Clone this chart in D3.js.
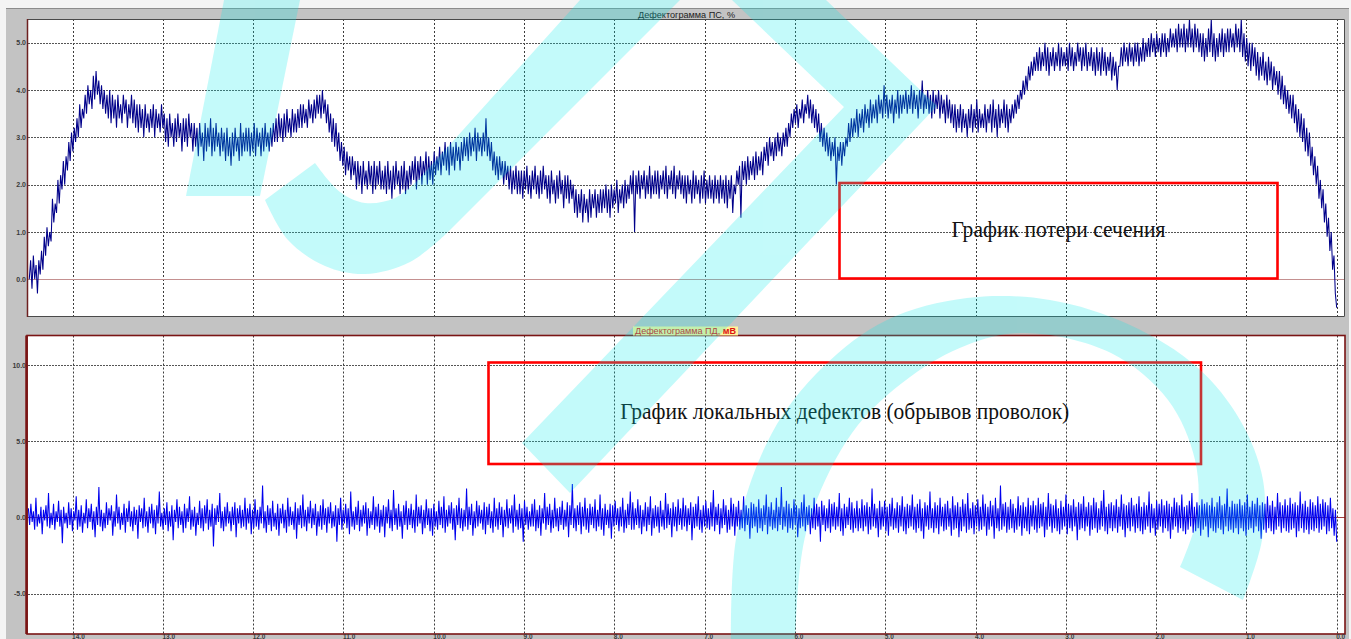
<!DOCTYPE html>
<html>
<head>
<meta charset="utf-8">
<script src="https://cdn.jsdelivr.net/npm/d3@7/dist/d3.min.js"></script>
<style>
  html, body { margin: 0; padding: 0; background: #ffffff; overflow: hidden; }
  svg { display: block; }
  .tick text { font-family: "Liberation Sans", Arial, sans-serif; font-size: 7px; font-weight: bold; fill: #3a3a3a; }
</style>
</head>
<body>
<svg id="chart" width="1351" height="639"></svg>
<script>
// ---- data -----------------------------------------------------------------
// distance along the rope, m (axis runs from right to left)
const distanceTicks = [14, 13, 12, 11, 10, 9, 8, 7, 6, 5, 4, 3, 2, 1, 0];
// loss of metallic cross-section (ПС), %
const psTicks = [0, 1, 2, 3, 4, 5];
// local faults signal (ПД), mV
const pdTicks = [-5, 0, 5, 10];

// first and last sample positions of each record, m
const psSpan = [14.48, 0.0];
const pdSpan = [14.49, 0.0];

// ПС record, %
const psValues = [
  0.0, 0.4, -0.2, 0.5, 0.0, 0.3, -0.3, 0.4, 0.1, 0.6, 0.2, 0.9, 0.5, 1.1, 0.7, 1.0, 0.8, 1.7, 1.2, 1.6,
  1.4, 2.1, 1.6, 2.2, 1.9, 2.5, 2.0, 2.6, 2.3, 2.9, 2.5, 3.1, 2.7, 3.2, 2.9, 3.4, 3.0, 3.7, 3.2, 3.6,
  3.4, 3.9, 3.5, 4.1, 3.7, 4.0, 3.6, 4.3, 3.8, 4.4, 3.9, 4.2, 3.7, 4.1, 3.6, 4.0, 3.5, 3.9, 3.4, 4.0,
  3.3, 3.9, 3.4, 3.8, 3.2, 3.9, 3.4, 3.7, 3.3, 3.9, 3.5, 3.8, 3.2, 3.7, 3.4, 3.9, 3.3, 3.8, 3.2, 3.7,
  3.1, 3.7, 3.2, 3.6, 3.0, 3.7, 3.2, 3.5, 3.1, 3.6, 3.2, 3.7, 3.0, 3.6, 3.2, 3.5, 3.1, 3.7, 3.2, 3.5,
  2.9, 3.4, 2.8, 3.5, 3.0, 3.3, 2.8, 3.4, 2.9, 3.5, 3.0, 3.3, 2.7, 3.4, 2.9, 3.4, 2.8, 3.5, 3.0, 3.3,
  2.7, 3.3, 2.8, 3.2, 2.6, 3.3, 2.8, 3.1, 2.5, 3.3, 2.7, 3.2, 2.8, 3.4, 2.6, 3.2, 2.7, 3.3, 2.8, 3.1,
  2.6, 3.2, 2.7, 3.1, 2.5, 3.2, 2.6, 3.0, 2.4, 3.1, 2.6, 3.2, 2.7, 3.0, 2.5, 3.3, 2.6, 3.1, 2.7, 3.2,
  2.7, 3.2, 2.6, 3.1, 2.7, 3.3, 2.6, 3.2, 2.8, 3.1, 2.6, 3.2, 2.7, 3.3, 2.8, 3.1, 2.7, 3.2, 2.8, 3.3,
  2.9, 3.4, 2.9, 3.5, 3.0, 3.4, 2.9, 3.5, 3.0, 3.6, 3.1, 3.4, 3.0, 3.6, 3.1, 3.5, 3.1, 3.6, 3.2, 3.7,
  3.2, 3.7, 3.3, 3.6, 3.2, 3.8, 3.4, 3.7, 3.3, 3.8, 3.4, 3.9, 3.5, 3.9, 3.4, 4.0, 3.5, 3.8, 3.3, 3.7,
  3.1, 3.5, 2.9, 3.4, 2.8, 3.3, 2.7, 3.1, 2.5, 2.9, 2.4, 2.8, 2.2, 2.7, 2.3, 2.6, 2.1, 2.6, 2.2, 2.5,
  1.9, 2.5, 2.0, 2.4, 1.8, 2.5, 2.0, 2.3, 1.9, 2.5, 2.0, 2.4, 1.8, 2.5, 1.9, 2.4, 2.0, 2.5, 1.9, 2.3,
  1.9, 2.4, 1.8, 2.5, 1.9, 2.3, 1.7, 2.4, 1.9, 2.5, 2.0, 2.3, 1.8, 2.4, 1.9, 2.5, 1.8, 2.3, 1.9, 2.4,
  2.0, 2.5, 2.1, 2.6, 1.9, 2.5, 2.1, 2.6, 2.0, 2.5, 2.2, 2.7, 2.0, 2.6, 2.1, 2.5, 2.0, 2.7, 2.2, 2.6,
  2.3, 2.8, 2.2, 2.7, 2.4, 2.9, 2.3, 2.8, 2.2, 2.9, 2.4, 2.8, 2.3, 2.9, 2.5, 2.8, 2.3, 2.9, 2.5, 3.0,
  2.6, 3.0, 2.5, 3.1, 2.6, 3.0, 2.7, 3.2, 2.5, 3.1, 2.7, 3.0, 2.6, 3.1, 2.7, 3.4, 2.6, 3.0, 2.5, 2.9,
  2.3, 2.7, 2.2, 2.6, 2.1, 2.6, 2.2, 2.5, 2.0, 2.5, 2.1, 2.4, 1.9, 2.4, 1.8, 2.3, 1.9, 2.4, 1.8, 2.3,
  1.8, 2.3, 1.7, 2.3, 1.9, 2.4, 1.8, 2.2, 1.7, 2.3, 1.9, 2.4, 1.8, 2.2, 1.7, 2.3, 1.8, 2.4, 1.9, 2.2,
  1.7, 2.2, 1.6, 2.3, 1.8, 2.1, 1.6, 2.2, 1.7, 2.3, 1.8, 2.1, 1.5, 2.2, 1.7, 2.2, 1.6, 2.1, 1.7, 2.0,
  1.4, 1.9, 1.3, 1.8, 1.4, 1.9, 1.2, 1.8, 1.4, 1.7, 1.2, 1.9, 1.3, 1.8, 1.5, 1.9, 1.3, 1.8, 1.4, 1.9,
  1.4, 1.9, 1.5, 2.0, 1.4, 1.9, 1.3, 2.0, 1.5, 1.9, 1.6, 2.1, 1.4, 1.9, 1.6, 2.0, 1.5, 2.1, 1.6, 2.0,
  1.7, 2.2, 1.8, 2.3, 1.0, 2.2, 1.8, 2.3, 1.7, 2.2, 1.9, 2.3, 1.7, 2.2, 1.8, 2.4, 1.7, 2.2, 1.8, 2.3,
  1.8, 2.3, 1.7, 2.2, 1.9, 2.3, 1.8, 2.4, 1.7, 2.2, 1.9, 2.3, 1.8, 2.4, 1.7, 2.2, 1.9, 2.3, 1.8, 2.2,
  1.7, 2.2, 1.6, 2.2, 1.8, 2.1, 1.6, 2.3, 1.7, 2.2, 1.8, 2.1, 1.6, 2.2, 1.7, 2.3, 1.6, 2.1, 1.7, 2.2,
  1.7, 2.1, 1.6, 2.2, 1.7, 2.1, 1.6, 2.2, 1.7, 2.1, 1.6, 2.2, 1.5, 2.1, 1.7, 2.2, 1.4, 2.0, 1.8, 2.3,
  2.0, 2.4, 1.3, 2.5, 2.1, 2.5, 2.0, 2.6, 2.1, 2.5, 2.2, 2.6, 2.1, 2.7, 2.2, 2.6, 2.3, 2.7, 2.2, 2.8,
  2.5, 2.9, 2.4, 3.0, 2.6, 2.9, 2.5, 3.0, 2.6, 3.1, 2.7, 3.0, 2.6, 3.1, 2.8, 3.2, 2.8, 3.3, 3.0, 3.5,
  3.2, 3.6, 3.3, 3.7, 3.2, 3.6, 3.4, 3.8, 3.3, 3.7, 3.5, 3.9, 3.4, 3.8, 3.3, 3.7, 3.2, 3.6, 3.1, 3.5,
  2.9, 3.3, 2.8, 3.2, 2.7, 3.1, 2.6, 3.0, 2.5, 2.9, 2.6, 3.0, 2.0, 2.8, 2.5, 2.9, 2.4, 2.9, 2.6, 3.0,
  2.8, 3.3, 2.9, 3.4, 3.0, 3.4, 3.1, 3.6, 3.0, 3.5, 3.2, 3.6, 3.1, 3.7, 3.3, 3.6, 3.2, 3.8, 3.3, 3.7,
  3.4, 3.8, 3.3, 3.9, 3.5, 3.8, 3.4, 4.1, 3.5, 3.9, 3.4, 3.8, 3.5, 3.9, 3.3, 3.8, 3.5, 4.0, 3.4, 3.9,
  3.5, 3.9, 3.6, 4.0, 3.5, 3.9, 3.6, 4.1, 3.5, 4.0, 3.6, 3.9, 3.4, 4.0, 3.6, 4.2, 3.5, 3.9, 3.6, 4.0,
  3.5, 3.9, 3.4, 4.0, 3.5, 3.9, 3.6, 4.0, 3.4, 3.9, 3.5, 3.8, 3.3, 3.9, 3.4, 3.8, 3.3, 3.7, 3.2, 3.7,
  3.1, 3.6, 3.2, 3.7, 3.1, 3.6, 3.2, 3.5, 3.0, 3.6, 3.2, 3.7, 3.1, 3.6, 3.2, 3.8, 3.1, 3.6, 3.2, 3.5,
  3.2, 3.7, 3.1, 3.6, 3.3, 3.7, 3.1, 3.8, 3.2, 3.6, 3.0, 3.7, 3.2, 3.6, 3.3, 3.8, 3.2, 3.7, 3.1, 3.6,
  3.3, 3.7, 3.4, 3.8, 3.5, 3.9, 3.6, 4.0, 3.8, 4.2, 3.9, 4.3, 4.0, 4.5, 4.2, 4.6, 4.3, 4.7, 4.4, 4.8,
  4.4, 4.9, 4.4, 4.8, 4.5, 5.0, 4.4, 4.9, 4.3, 4.8, 4.5, 4.9, 4.4, 4.8, 4.5, 5.0, 4.4, 4.9, 4.5, 4.8,
  4.5, 4.9, 4.4, 5.0, 4.5, 4.9, 4.4, 4.8, 4.5, 5.0, 4.6, 4.9, 4.4, 4.9, 4.5, 5.0, 4.4, 4.8, 4.5, 4.9,
  4.4, 4.8, 4.3, 4.9, 4.4, 4.8, 4.3, 4.9, 4.4, 4.8, 4.3, 4.7, 4.4, 4.8, 4.2, 4.7, 4.3, 4.6, 4.0, 4.5,
  4.5, 4.9, 4.5, 5.0, 4.6, 4.9, 4.5, 5.0, 4.6, 4.9, 4.5, 5.0, 4.6, 5.0, 4.5, 4.9, 4.6, 5.1, 4.6, 5.0,
  4.7, 5.1, 4.7, 5.2, 4.8, 5.1, 4.7, 5.2, 4.8, 5.1, 4.7, 5.2, 4.8, 5.2, 4.7, 5.1, 4.8, 5.3, 4.9, 5.2,
  4.9, 5.3, 4.8, 5.4, 4.9, 5.3, 4.9, 5.4, 4.8, 5.3, 4.9, 5.5, 4.9, 5.3, 4.8, 5.4, 4.9, 5.3, 4.8, 5.2,
  4.7, 5.2, 4.6, 5.1, 4.7, 5.3, 4.8, 5.5, 4.7, 5.2, 4.6, 5.1, 4.7, 5.2, 4.8, 5.3, 4.7, 5.2, 4.8, 5.3,
  4.8, 5.3, 4.9, 5.2, 4.8, 5.4, 4.9, 5.3, 4.8, 5.5, 4.7, 5.2, 4.6, 5.1, 4.5, 5.0, 4.4, 5.0, 4.5, 4.9,
  4.3, 4.8, 4.2, 4.7, 4.3, 4.8, 4.2, 4.6, 4.1, 4.7, 4.2, 4.6, 4.0, 4.5, 4.1, 4.4, 3.9, 4.4, 3.8, 4.3,
  3.7, 4.1, 3.6, 4.0, 3.5, 3.9, 3.4, 3.9, 3.3, 3.7, 3.1, 3.6, 3.0, 3.5, 2.9, 3.4, 2.7, 3.2, 2.6, 3.1,
  2.4, 2.8, 2.2, 2.6, 2.0, 2.4, 1.7, 2.1, 1.5, 1.9, 1.2, 1.6, 0.9, 1.3, 0.6, 1.0, 0.2, 0.5, -0.3, -0.6
];

// ПД record, mV
const pdValues = [
  0.6, -0.5, 0.9, -0.3, 0.4, -0.8, 1.3, -0.6, 0.2, -0.4, 0.7, -1.1, 0.5, -0.2, 0.8, -0.6, 1.6, -0.7, 0.3, -0.5,
  0.9, -0.8, 0.4, -0.3, 1.1, -0.6, 0.5, -1.7, 0.7, -0.4, 0.3, -0.7, 1.0, -0.5, 0.6, -0.9, 0.4, -0.2, 1.4, -0.8,
  0.5, -0.6, 0.8, -1.0, 0.3, -0.4, 1.2, -0.7, 0.6, -0.3, 0.9, -0.8, 0.4, -1.3, 0.7, -0.5, 2.0, -0.6, 0.5, -0.9,
  0.3, -0.7, 1.0, -0.5, 0.6, -0.2, 0.8, -1.2, 0.4, -0.6, 1.5, -0.4, 0.7, -0.8, 0.3, -0.5, 0.9, -1.0, 0.6, -0.3,
  1.1, -0.6, 0.4, -0.9, 0.7, -0.5, 0.5, -1.4, 0.8, -0.3, 0.6, -0.7, 1.3, -0.6, 0.4, -1.0, 0.7, -0.4, 0.9, -0.7,
  0.5, -1.1, 0.8, -0.4, 1.7, -0.6, 0.3, -0.8, 0.6, -0.5, 1.0, -0.9, 0.4, -0.6, 0.8, -1.5, 0.5, -0.3, 1.2, -0.7,
  0.7, -0.5, 0.4, -1.0, 0.9, -0.7, 0.6, -0.3, 1.4, -0.8, 0.5, -0.6, 0.7, -1.2, 0.3, -0.5, 1.1, -0.7, 0.6, -0.9,
  0.8, -0.4, 1.2, -0.8, 0.5, -0.6, 0.9, -1.9, 0.6, -0.5, 0.8, -0.3, 1.6, -0.7, 0.4, -0.9, 0.7, -0.6, 1.0, -0.4,
  0.4, -0.9, 0.7, -0.5, 1.0, -1.3, 0.6, -0.4, 0.8, -0.7, 0.5, -0.6, 1.3, -0.8, 0.6, -0.4, 0.9, -1.1, 0.5, -0.7,
  1.2, -0.6, 0.5, -0.8, 0.7, -0.4, 2.1, -0.7, 0.4, -1.0, 0.8, -0.5, 0.6, -0.9, 1.1, -0.6, 0.3, -0.8, 0.9, -1.2,
  0.6, -0.4, 0.9, -0.7, 0.5, -1.0, 1.3, -0.6, 0.7, -0.5, 0.4, -0.8, 1.0, -1.4, 0.6, -0.5, 0.8, -0.7, 1.5, -0.6,
  0.5, -0.9, 0.7, -0.4, 1.1, -0.7, 0.6, -0.5, 0.9, -1.2, 0.4, -0.6, 0.8, -0.8, 1.2, -0.5, 0.6, -1.0, 0.7, -0.4,
  1.0, -0.7, 0.4, -0.6, 0.8, -1.6, 0.6, -0.5, 1.3, -0.8, 0.5, -0.4, 0.9, -0.7, 0.6, -1.1, 1.7, -0.6, 0.4, -0.8,
  0.7, -0.5, 1.1, -0.9, 0.5, -0.6, 0.8, -0.4, 1.0, -1.2, 0.6, -0.7, 0.4, -0.5, 1.4, -0.8, 0.7, -0.6, 0.9, -1.0,
  0.5, -0.6, 0.8, -1.3, 0.7, -0.4, 1.2, -0.7, 0.5, -0.9, 1.8, -0.5, 0.6, -0.8, 0.9, -0.6, 0.4, -1.4, 0.8, -0.5,
  1.1, -0.8, 0.6, -0.5, 0.9, -0.7, 0.5, -1.0, 1.5, -0.6, 0.7, -0.4, 0.8, -1.1, 0.5, -0.7, 1.2, -0.5, 0.6, -0.9,
  0.6, -1.2, 0.9, -0.6, 0.4, -0.8, 1.1, -0.5, 0.7, -0.7, 1.4, -1.0, 0.5, -0.6, 0.8, -0.4, 1.0, -0.8, 0.6, -1.5,
  0.8, -0.5, 1.3, -0.7, 0.6, -0.9, 0.5, -0.6, 1.9, -0.8, 0.7, -0.5, 0.9, -1.2, 0.4, -0.7, 1.1, -0.6, 0.8, -0.4,
  0.5, -0.8, 1.0, -1.1, 0.7, -0.5, 0.9, -0.7, 0.4, -1.0, 1.3, -0.6, 0.6, -0.8, 1.0, -0.5, 0.7, -1.3, 0.5, -0.6,
  1.2, -0.7, 0.6, -0.4, 0.8, -1.0, 1.5, -0.6, 0.5, -0.8, 0.9, -0.7, 0.6, -1.6, 1.1, -0.5, 0.7, -0.8, 0.4, -0.6,
  0.9, -0.6, 1.2, -0.9, 0.5, -0.7, 0.8, -1.2, 0.6, -0.4, 1.6, -0.8, 0.7, -0.5, 0.9, -1.0, 0.5, -0.7, 1.3, -0.6,
  0.6, -0.9, 0.7, -0.5, 1.1, -0.8, 0.5, -0.6, 1.0, -1.3, 0.8, -0.5, 2.2, -0.7, 0.6, -0.9, 0.8, -0.5, 1.0, -1.1,
  0.7, -0.6, 1.3, -0.8, 0.6, -1.0, 0.9, -0.5, 0.7, -0.7, 1.2, -0.9, 0.5, -0.6, 1.5, -0.8, 0.6, -1.2, 0.9, -0.5,
  0.5, -0.7, 0.9, -1.4, 0.8, -0.6, 1.1, -0.5, 0.6, -0.9, 0.7, -0.6, 1.3, -1.0, 0.5, -0.7, 0.9, -0.5, 1.7, -0.8,
  1.0, -0.8, 0.6, -0.5, 1.2, -0.7, 0.8, -1.1, 0.5, -0.6, 1.0, -0.9, 0.7, -0.5, 1.4, -1.2, 0.6, -0.7, 0.8, -0.6,
  0.7, -1.0, 1.1, -0.6, 0.5, -0.8, 1.6, -0.7, 0.9, -0.5, 0.6, -1.3, 1.0, -0.6, 0.7, -0.9, 1.2, -0.5, 0.6, -0.8,
  1.3, -0.6, 0.8, -0.9, 0.6, -0.5, 1.0, -1.5, 0.7, -0.7, 0.9, -0.6, 1.4, -0.8, 0.5, -1.0, 0.8, -0.6, 1.1, -0.7,
  0.6, -0.8, 1.0, -0.6, 1.8, -0.9, 0.7, -0.5, 0.9, -1.1, 0.6, -0.7, 1.2, -0.5, 0.8, -1.0, 0.5, -0.8, 1.3, -0.6,
  0.9, -1.2, 0.7, -0.6, 1.1, -0.8, 0.5, -0.7, 1.4, -0.9, 0.8, -0.5, 0.6, -1.4, 1.0, -0.7, 0.9, -0.6, 0.7, -1.0,
  1.2, -0.7, 0.6, -0.9, 0.8, -0.5, 1.5, -1.1, 0.7, -0.6, 1.0, -0.8, 0.5, -0.7, 1.3, -0.9, 0.7, -0.5, 2.0, -0.8,
  0.7, -0.6, 1.1, -1.0, 0.9, -0.7, 0.6, -0.8, 1.2, -0.5, 0.8, -1.3, 0.6, -0.7, 1.0, -0.6, 1.5, -0.9, 0.7, -0.5,
  0.8, -1.1, 0.6, -0.7, 1.3, -0.8, 0.9, -0.6, 0.7, -1.6, 1.1, -0.5, 0.8, -0.9, 0.6, -0.7, 1.2, -1.0, 0.9, -0.6,
  1.0, -0.8, 0.7, -0.6, 1.6, -0.9, 0.6, -1.2, 0.9, -0.7, 0.7, -0.5, 1.3, -0.8, 1.0, -1.0, 0.6, -0.7, 1.1, -0.9,
  0.6, -0.7, 1.2, -0.9, 0.8, -0.6, 1.0, -1.1, 0.7, -0.8, 1.9, -0.6, 0.9, -0.7, 0.6, -1.3, 1.1, -0.8, 0.7, -0.6,
  1.1, -0.9, 0.7, -1.2, 0.9, -0.6, 1.3, -0.8, 0.6, -0.7, 1.0, -1.0, 0.8, -0.6, 1.4, -0.9, 0.7, -1.1, 0.9, -0.7,
  0.8, -0.6, 1.5, -0.8, 0.7, -1.0, 0.9, -0.7, 1.2, -0.9, 0.6, -1.4, 1.0, -0.6, 0.8, -0.8, 1.7, -0.7, 0.6, -1.0,
  1.0, -0.7, 0.8, -1.1, 1.3, -0.6, 0.7, -0.9, 0.9, -0.8, 1.1, -0.6, 0.6, -1.2, 1.4, -0.8, 0.8, -0.7, 1.0, -1.3,
  0.7, -0.9, 1.2, -0.6, 0.9, -1.0, 1.6, -0.8, 0.6, -0.7, 1.0, -1.1, 0.8, -0.6, 1.2, -0.9, 0.7, -0.8, 1.5, -0.6,
  0.9, -1.2, 0.7, -0.8, 1.1, -0.6, 0.8, -1.4, 1.3, -0.7, 0.6, -0.9, 2.1, -0.8, 0.9, -0.6, 1.0, -1.0, 0.7, -0.8,
  1.2, -0.7, 0.9, -1.0, 0.6, -0.8, 1.4, -0.6, 0.8, -1.2, 1.0, -0.7, 0.7, -0.9, 1.3, -1.1, 0.8, -0.6, 1.1, -0.8,
  0.8, -1.0, 1.3, -0.7, 0.9, -0.6, 1.0, -1.3, 0.7, -0.8, 1.6, -0.6, 0.9, -1.0, 0.8, -0.7, 1.2, -0.9, 0.6, -1.1,
  1.1, -0.8, 0.7, -0.6, 1.5, -1.1, 0.9, -0.7, 0.8, -0.9, 1.2, -0.6, 0.7, -1.5, 1.0, -0.8, 0.9, -0.7, 1.4, -0.9,
  0.7, -0.6, 1.0, -1.2, 0.8, -0.8, 1.3, -0.7, 1.0, -1.0, 0.6, -0.8, 1.1, -0.6, 1.8, -0.9, 0.7, -1.1, 0.9, -0.7,
  1.0, -0.9, 0.8, -0.7, 1.2, -1.0, 0.7, -0.6, 1.5, -0.8, 0.9, -1.3, 0.8, -0.7, 1.0, -0.9, 1.3, -0.6, 0.8, -1.0,
  0.9, -0.7, 1.4, -0.9, 0.7, -1.1, 1.0, -0.8, 0.8, -0.6, 1.7, -1.0, 0.9, -0.7, 0.6, -1.2, 1.1, -0.8, 0.9, -0.6,
  1.2, -1.0, 0.8, -0.7, 1.1, -0.9, 0.9, -1.4, 0.7, -0.8, 1.3, -0.6, 1.0, -1.0, 0.8, -0.7, 1.5, -0.9, 0.7, -1.1,
  0.8, -0.8, 1.1, -0.6, 1.6, -1.0, 0.7, -0.9, 1.0, -0.7, 0.8, -1.2, 1.2, -0.8, 0.9, -0.6, 1.0, -1.3, 0.8, -0.7,
  1.3, -0.9, 0.7, -1.0, 1.0, -0.7, 1.4, -0.8, 0.8, -1.1, 0.9, -0.6, 1.9, -0.9, 0.7, -0.8, 1.1, -1.0, 0.9, -0.7,
  0.9, -1.1, 1.2, -0.7, 0.8, -0.9, 1.0, -1.2, 1.5, -0.8, 0.7, -0.7, 1.1, -1.0, 0.9, -0.6, 1.3, -0.9, 0.8, -1.4,
  1.0, -0.8, 0.9, -1.0, 1.4, -0.7, 0.8, -0.9, 1.1, -1.1, 0.7, -0.8, 1.6, -0.6, 1.0, -1.0, 0.8, -0.7, 1.2, -0.9,
  0.8, -1.0, 1.3, -0.8, 0.9, -0.7, 1.0, -1.3, 0.8, -0.9, 1.7, -0.7, 0.9, -1.0, 1.1, -0.8, 0.7, -1.1, 1.2, -0.8,
  1.0, -0.9, 0.8, -0.7, 1.4, -1.0, 0.9, -0.8, 1.2, -0.6, 1.0, -1.1, 0.8, -0.9, 1.3, -0.7, 0.6, -1.2, 0.5, -1.6
];

const psTitle = "Дефектограмма ПС, %";
const pdTitle = "Дефектограмма ПД, ";
const pdUnit = "мВ";
const psNote = "График потери сечения";
const pdNote = "График локальных дефектов (обрывов проволок)";

// ---- layout ---------------------------------------------------------------
const W = 1351, H = 639;
const plotL = 28, plotR = 1345;
const psBox = { y0: 19, y1: 317 };
const pdBox = { y0: 335.5, y1: 634 };

const svg = d3.select("#chart");

// window frame
svg.append("rect").attr("width", W).attr("height", H).attr("fill", "#f4f4f4");
svg.append("rect").attr("x", 6).attr("y", 9).attr("width", 1343).attr("height", H - 9).attr("fill", "#c3c3c3");
svg.append("line").attr("x1", 6).attr("x2", 1349).attr("y1", 8.5).attr("y2", 8.5).attr("stroke", "#8c8c8c");

// scales
const x = d3.scaleLinear().domain([14.494, -0.092]).range([plotL, plotR]);
const yPS = d3.scaleLinear().domain([-0.797, 5.50]).range([psBox.y1, psBox.y0]);
const yPD = d3.scaleLinear().domain([-7.66, 11.96]).range([pdBox.y1, pdBox.y0]);

const defs = svg.append("defs");
defs.append("clipPath").attr("id", "clipTop").append("rect")
  .attr("x", plotL).attr("y", psBox.y0).attr("width", plotR - plotL).attr("height", psBox.y1 - psBox.y0);
defs.append("clipPath").attr("id", "clipBot").append("rect")
  .attr("x", plotL).attr("y", pdBox.y0).attr("width", plotR - plotL).attr("height", pdBox.y1 - pdBox.y0);

const px = v => Math.round(v) + 0.5;

function panel(box, yScale, yTicks, zeroColor) {
  const g = svg.append("g");
  g.append("rect").attr("x", plotL).attr("y", box.y0)
    .attr("width", plotR - plotL).attr("height", box.y1 - box.y0).attr("fill", "#ffffff");
  // vertical grid
  g.append("g").selectAll("line").data(distanceTicks).join("line")
    .attr("x1", d => px(x(d))).attr("x2", d => px(x(d)))
    .attr("y1", box.y0).attr("y2", box.y1)
    .attr("stroke", "#3c3c3c").attr("stroke-width", 1).attr("stroke-dasharray", "2,2");
  // horizontal grid
  g.append("g").selectAll("line").data(yTicks.filter(d => d !== 0)).join("line")
    .attr("x1", plotL).attr("x2", plotR)
    .attr("y1", d => px(yScale(d))).attr("y2", d => px(yScale(d)))
    .attr("stroke", "#555555").attr("stroke-width", 1).attr("stroke-dasharray", "2,1");
  // zero line
  g.append("line").attr("x1", plotL).attr("x2", plotR)
    .attr("y1", px(yScale(0))).attr("y2", px(yScale(0)))
    .attr("stroke", zeroColor).attr("stroke-width", 1);
  // value labels
  const ax = d3.axisLeft(yScale).tickValues(yTicks).tickFormat(d => d.toFixed(1))
    .tickSize(0).tickPadding(2);
  g.append("g").attr("transform", `translate(${plotL},0)`).call(ax)
    .call(s => s.select(".domain").remove());
  return g;
}

panel(psBox, yPS, psTicks, "#c49090");
panel(pdBox, yPD, pdTicks, "#a04040");

// ПС trace
const psPos = d3.scaleLinear().domain([0, psValues.length - 1]).range(psSpan);
svg.append("path").datum(psValues)
  .attr("clip-path", "url(#clipTop)")
  .attr("fill", "none").attr("stroke", "#00008a").attr("stroke-width", 1.05)
  .attr("d", d3.line().x((d, i) => x(psPos(i))).y(d => yPS(d)));

// ПД trace
const pdPos = d3.scaleLinear().domain([0, pdValues.length - 1]).range(pdSpan);
svg.append("path").datum(pdValues)
  .attr("clip-path", "url(#clipBot)")
  .attr("fill", "none").attr("stroke", "#0000ee").attr("stroke-width", 1.05)
  .attr("d", d3.line().x((d, i) => x(pdPos(i))).y(d => yPD(d)));

// panel borders
svg.append("path")
  .attr("d", `M${plotL},${psBox.y0 + 0.5}H${plotR - 0.5}V${psBox.y1 - 0.5}H${plotL}`)
  .attr("fill", "none").attr("stroke", "#4a4a4a");
svg.append("line").attr("x1", plotL - 0.5).attr("x2", plotL - 0.5).attr("y1", psBox.y0).attr("y2", psBox.y1)
  .attr("stroke", "#6e2020").attr("stroke-width", 1.5);
svg.append("rect").attr("x", plotL - 1).attr("y", pdBox.y0).attr("width", plotR - plotL + 1).attr("height", pdBox.y1 - pdBox.y0)
  .attr("fill", "none").attr("stroke", "#7a1414").attr("stroke-width", 1.6);
svg.append("line").attr("x1", plotL - 1.5).attr("x2", plotL - 1.5).attr("y1", pdBox.y0).attr("y2", pdBox.y1)
  .attr("stroke", "#7a1414").attr("stroke-width", 2.5);

// distance labels under the lower panel
svg.append("g").attr("transform", `translate(0,${pdBox.y1})`)
  .call(d3.axisBottom(x).tickValues(distanceTicks).tickFormat(d => d.toFixed(1)).tickSize(0).tickPadding(0))
  .call(s => s.select(".domain").remove())
  .call(s => s.selectAll("text").attr("text-anchor", "start").attr("dx", -1)
    .attr("dy", 0).attr("y", 5.2).style("font-size", "6.5px"));

// panel titles
svg.append("text").attr("x", 686.5).attr("y", 17.5).attr("text-anchor", "middle")
  .attr("font-family", "Liberation Sans, Arial, sans-serif").attr("font-size", 8.5)
  .attr("textLength", 97).attr("lengthAdjust", "spacingAndGlyphs")
  .attr("fill", "#1c1c1c").text(psTitle);

svg.append("rect").attr("x", 633).attr("y", 326.5).attr("width", 105).attr("height", 9).attr("fill", "#fff39a");
const t2 = svg.append("text").attr("x", 635).attr("y", 334.2)
  .attr("font-family", "Liberation Sans, Arial, sans-serif").attr("font-size", 8.5)
  .attr("textLength", 101).attr("lengthAdjust", "spacingAndGlyphs")
  .attr("fill", "#e01010");
t2.append("tspan").text(pdTitle);
t2.append("tspan").attr("font-weight", "bold").text(pdUnit);

// annotation frames
function note(x0, y0, x1, y1, label, ty, size, len) {
  svg.append("rect").attr("x", x0).attr("y", y0).attr("width", x1 - x0).attr("height", y1 - y0)
    .attr("fill", "none").attr("stroke", "#ff0000").attr("stroke-width", 2.6);
  svg.append("text").attr("x", (x0 + x1) / 2).attr("y", ty).attr("text-anchor", "middle")
    .attr("font-family", "Liberation Serif, Times New Roman, serif").attr("font-size", size)
    .attr("textLength", len).attr("lengthAdjust", "spacingAndGlyphs")
    .attr("fill", "#111111").text(label);
}
note(839.5, 183, 1277.5, 278.5, psNote, 237, 23, 214);
note(488.5, 362.5, 1201, 464, pdNote, 419, 23, 449);

// large translucent emblem laid over the whole sheet
const mark = svg.append("g").attr("opacity", 0.23).attr("fill", "rgb(0,234,234)");
const curve = d3.line().curve(d3.curveCatmullRom);

// slanted bar on the left
mark.append("path").attr("d", "M224,0L300,0L260,196L186,196Z");

// hooked stroke
const hookOuter = [[265, 200], [288, 240], [325, 266], [365, 274], [410, 262], [447, 233]];
const hookInner = [[418, 180], [395, 198], [365, 203], [340, 192], [315, 163]];
mark.append("path").attr("d",
  curve(hookOuter) + "L680,0L580,0" + curve(hookInner).replace(/^M/, "L") + "Z");

// chevron
mark.append("path").attr("d", "M732,0L826,0L937,106L570,493L522,443L844,107Z");

// arch
const archOuter = [[731, 650], [737, 533], [772, 433], [823, 367], [887, 320], [967, 298], [1050, 300],
  [1130, 325], [1197, 367], [1240, 420], [1263, 480], [1262, 540], [1243, 600]];
const archInner = [[1180, 567], [1197, 517], [1195, 460], [1168, 400], [1111, 353], [1025, 333],
  [967, 345], [910, 377], [852, 433], [806, 533], [795, 650]];
mark.append("path").attr("d",
  curve(archOuter) + curve(archInner).replace(/^M/, "L") + "Z");
</script>
</body>
</html>
